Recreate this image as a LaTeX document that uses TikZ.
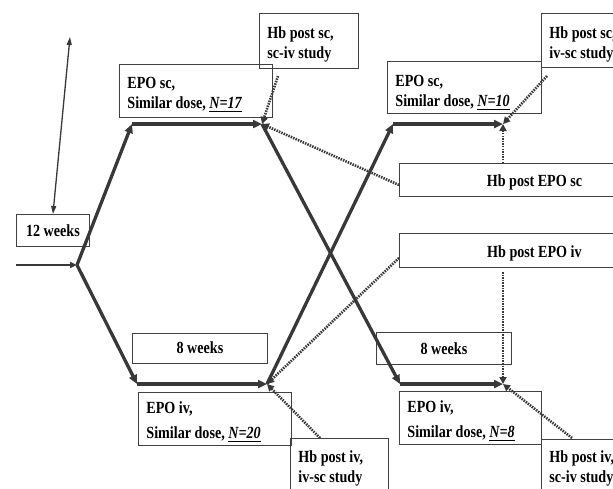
\documentclass[tikz,border=0pt]{standalone}
\usepackage{fontspec}
\setmainfont{Liberation Serif}[FakeStretch=0.83]
\usetikzlibrary{arrows.meta}
\definecolor{ln}{HTML}{383838}
\definecolor{bx}{HTML}{404040}
\newcommand\fnt{\fontsize{17}{20}\selectfont\bfseries}
\newcommand\nul[1]{\setbox0\hbox{\itshape #1}\rlap{\rule[-4pt]{\wd0}{1.8pt}}\box0}
\newcommand\twol[4]{\makebox[#1][l]{\begin{tabular}[t]{@{}l@{}}#2\\[#4]#3\end{tabular}}}
\begin{document}
\begin{tikzpicture}[x=1pt,y=-1pt,
  box/.style={draw=bx, line width=0.9pt, inner ysep=0pt, anchor=north west, font=\fnt, text=black},
  lbox/.style={box, inner xsep=8pt},
  cbox/.style={box, inner xsep=0pt},
  mainln/.style={draw=ln, line width=3.3pt, -{Triangle[length=9pt,width=8pt]}},
  hln/.style={mainln, line width=3.9pt},
  dots/.style={draw=ln, line width=2.6pt, dash pattern=on 1.5pt off 1.1pt, -{Triangle[length=7pt,width=7pt]}},
  inln/.style={draw=ln, line width=1.8pt, -{Triangle[length=7pt,width=6pt]}},
  dbl/.style={draw=ln, line width=1.3pt, {Triangle[length=8pt,width=5pt]}-{Triangle[length=8pt,width=5pt]}}]
\useasboundingbox (0,0) rectangle (613,488);
\clip (0,0) rectangle (613,488);

% boxes
\node[cbox, minimum width=73pt, text height=22pt, text depth=10pt] (w12) at (16,214) {12 weeks};
\node[lbox, text height=24pt, text depth=29pt] (sc17) at (119,64) {\twol{137pt}{EPO sc,}{Similar dose, \nul{N=17}}{0pt}};
\node[lbox, text height=25pt, text depth=30pt] (hbA) at (259,13) {\twol{83pt}{Hb post sc,}{sc-iv study}{0pt}};
\node[lbox, text height=25pt, text depth=27pt] (sc10) at (387,61) {\twol{138pt}{EPO sc,}{Similar dose, \nul{N=10}}{0pt}};
\node[lbox, text height=25pt, text depth=29pt] (hbB) at (541,13) {\twol{83pt}{Hb post sc,}{iv-sc study}{0pt}};
\node[cbox, minimum width=270pt, text height=23pt, text depth=10pt] (hbEsc) at (399,163) {Hb post EPO sc};
\node[cbox, minimum width=270pt, text height=24pt, text depth=10pt] (hbEiv) at (399,233) {Hb post EPO iv};
\node[cbox, minimum width=135pt, text height=20pt, text depth=10pt] (w8a) at (132,333) {8 weeks};
\node[cbox, minimum width=135pt, text height=22pt, text depth=10pt] (w8b) at (376,332) {8 weeks};
\node[lbox, text height=21pt, text depth=32pt] (iv20) at (138,392) {\twol{137pt}{EPO iv,}{Similar dose, \nul{N=20}}{5pt}};
\node[lbox, text height=24pt, text depth=32pt] (hbC) at (290,438) {\twol{82pt}{Hb post iv,}{iv-sc study}{0pt}};
\node[lbox, text height=21pt, text depth=32pt] (iv8) at (399,391) {\twol{126pt}{EPO iv,}{Similar dose, \nul{N=8}}{5pt}};
\node[lbox, text height=23pt, text depth=33pt] (hbD) at (541,439) {\twol{83pt}{Hb post iv,}{sc-iv study}{0pt}};

% junction coordinates
\coordinate (inS) at (16,265);
\coordinate (split) at (77,265);
\coordinate (ua) at (132,124);
\coordinate (ub) at (262,124);
\coordinate (la) at (137,384);
\coordinate (lb) at (267,384);
\coordinate (rua) at (393,124);
\coordinate (rub) at (503,124);
\coordinate (rla) at (400,384);
\coordinate (rlb) at (503,384);
\coordinate (dtop) at (70,37);
\coordinate (d1) at (278,76);
\coordinate (d2) at (399,185);
\coordinate (d3) at (503,163);
\coordinate (d4) at (547,76);
\coordinate (d5) at (399,258);
\coordinate (d6) at (503,272);
\coordinate (d7) at (320,438);
\coordinate (d8) at (572,438);

% connectors
\draw[dbl] (dtop) -- (w12.north);
\draw[inln] (inS) -- (split);
\draw[mainln] (split) -- (ua);
\draw[hln] (ua) -- (ub);
\draw[mainln] (split) -- (la);
\draw[hln] (la) -- (lb);
\draw[mainln] (ub) -- (rla);
\draw[hln] (rla) -- (rlb);
\draw[mainln] (lb) -- (rua);
\draw[hln] (rua) -- (rub);

\draw[dots] (d1) -- (ub);
\draw[dots] (d2) -- (ub);
\draw[dots] (d3) -- (rub);
\draw[dots] (d4) -- (rub);
\draw[dots] (d5) -- (lb);
\draw[dots] (d6) -- (rlb);
\draw[dots] (d7) -- (lb);
\draw[dots] (d8) -- (rlb);
\end{tikzpicture}
\end{document}
